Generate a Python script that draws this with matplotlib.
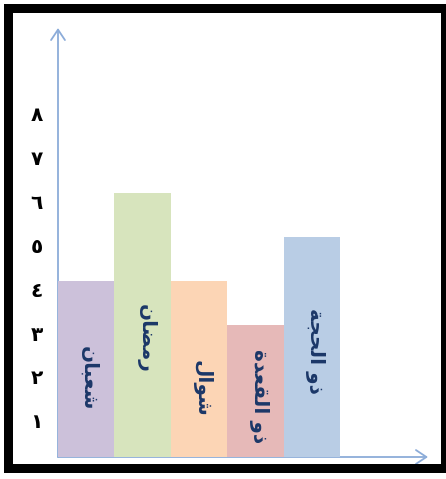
import matplotlib
matplotlib.use("Agg")
import matplotlib.pyplot as plt
from matplotlib.patches import Rectangle
from matplotlib.transforms import ScaledTranslation

# ---- data ----
months = ["شعبان", "رمضان", "شوال", "ذو القعدة", "ذو الحجة"]
values = [4, 6, 4, 3, 5]
bar_colors = ["#CCC1DA", "#D7E4BD", "#FCD5B5", "#E6B9B8", "#B9CDE5"]
y_ticks = [1, 2, 3, 4, 5, 6, 7, 8]
y_tick_labels = ["١", "٢", "٣", "٤", "٥", "٦", "٧", "٨"]

# vertical centre of each month name inside its bar (data units)
name_y = [1.8, 2.7, 1.55, 1.38, 2.4]

TEXT_BLUE = "#1B3768"
AXIS_BLUE = "#8CACD9"

# Arabic contextual forms: (isolated, final, initial, medial)
FORMS = {
    "ا": ("\uFE8D", "\uFE8E", None, None),
    "ب": ("\uFE8F", "\uFE90", "\uFE91", "\uFE92"),
    "ة": ("\uFE93", "\uFE94", None, None),
    "ج": ("\uFE9D", "\uFE9E", "\uFE9F", "\uFEA0"),
    "ح": ("\uFEA1", "\uFEA2", "\uFEA3", "\uFEA4"),
    "د": ("\uFEA9", "\uFEAA", None, None),
    "ذ": ("\uFEAB", "\uFEAC", None, None),
    "ر": ("\uFEAD", "\uFEAE", None, None),
    "ش": ("\uFEB5", "\uFEB6", "\uFEB7", "\uFEB8"),
    "ض": ("\uFEBD", "\uFEBE", "\uFEBF", "\uFEC0"),
    "ع": ("\uFEC9", "\uFECA", "\uFECB", "\uFECC"),
    "ق": ("\uFED5", "\uFED6", "\uFED7", "\uFED8"),
    "ل": ("\uFEDD", "\uFEDE", "\uFEDF", "\uFEE0"),
    "م": ("\uFEE1", "\uFEE2", "\uFEE3", "\uFEE4"),
    "ن": ("\uFEE5", "\uFEE6", "\uFEE7", "\uFEE8"),
    "و": ("\uFEED", "\uFEEE", None, None),
}


def shape(text):
    """Join Arabic letters and return them in left-to-right visual order."""
    out = []
    for i, ch in enumerate(text):
        f = FORMS.get(ch)
        if f is None:
            out.append(ch)
            continue
        prev = text[i - 1] if i > 0 else None
        nxt = text[i + 1] if i + 1 < len(text) else None
        join_prev = prev in FORMS and FORMS[prev][2] is not None
        join_next = f[2] is not None and nxt in FORMS
        if join_prev and join_next:
            out.append(f[3])
        elif join_prev:
            out.append(f[1])
        elif join_next:
            out.append(f[2])
        else:
            out.append(f[0])
    return "".join(reversed(out))


W, H = 446, 479
fig = plt.figure(figsize=(W / 100, H / 100), dpi=100)
fig.patch.set_facecolor("white")


def px_rect(x0, y0, x1, y1, **kw):
    return Rectangle((x0 / W, 1 - y1 / H), (x1 - x0) / W, (y1 - y0) / H,
                     transform=fig.transFigure, **kw)


# thick black frame
for r in [(4, 4, 13, 473), (4, 4, 446, 13), (441, 4, 446, 473), (4, 464, 446, 473)]:
    fig.add_artist(px_rect(*r, facecolor="black", edgecolor="none"))

ax_left, ax_right, ax_top, ax_bottom = 58, 428, 28, 457
ax = fig.add_axes([ax_left / W, 1 - ax_bottom / H,
                   (ax_right - ax_left) / W, (ax_bottom - ax_top) / H])
ax.set_facecolor("none")
ax.set_xlim(-0.5, 6.05)
ax.set_ylim(0, 9.75)
for s in ax.spines.values():
    s.set_visible(False)

# axes drawn as arrows
arrow = dict(arrowstyle="->,head_length=0.75,head_width=0.5", color=AXIS_BLUE,
             lw=1.3, shrinkA=0, shrinkB=0)
ax.annotate("", xy=(0, 1), xytext=(0, 0), xycoords="axes fraction",
            arrowprops=arrow, zorder=1)
ax.annotate("", xy=(1, 0), xytext=(0, 0), xycoords="axes fraction",
            arrowprops=arrow, zorder=1)

x = list(range(len(months)))
ax.bar(x, values, width=1.0, color=bar_colors, zorder=3)

for xi, name, ny in zip(x, months, name_y):
    ax.text(xi + 0.05, ny, shape(name), rotation=270, ha="center", va="center",
            fontsize=14.5, fontweight="bold", color=TEXT_BLUE,
            family="DejaVu Sans", zorder=4)

ax.set_xticks([])
ax.set_yticks(y_ticks, y_tick_labels)
ax.tick_params(axis="y", length=0, pad=15.5, labelsize=14.5, labelcolor="black")
shift = ScaledTranslation(0, -8 / 100, fig.dpi_scale_trans)
for lbl in ax.get_yticklabels():
    lbl.set_horizontalalignment("center")
    lbl.set_fontweight("bold")
    lbl.set_transform(lbl.get_transform() + shift)

fig.savefig("out.png", dpi=100)
